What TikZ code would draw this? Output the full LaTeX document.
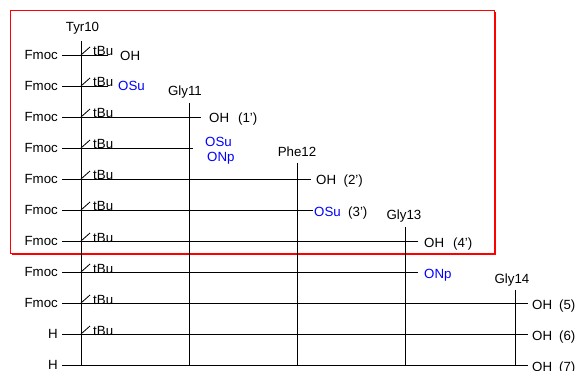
\documentclass[tikz,border=0pt]{standalone}
\usepackage{fontspec}
\setmainfont{Liberation Sans}
\begin{document}
\begin{tikzpicture}[x=1pt,y=-1pt,
  txt/.style={font=\fontsize{13.3}{16}\selectfont, inner sep=0pt},
  grp/.style={txt, anchor=east, inner xsep=4pt, inner ysep=0pt},
  rt/.style={txt, anchor=base west},
  bl/.style={rt, text=blue},
  res/.style={txt, anchor=base},
  ln/.style={line width=0.9pt},
  prot/.style={txt, anchor=base west}]
\useasboundingbox (0,0) rectangle (577,371);
\clip (0,0) rectangle (577,371);
% red frame
\draw[red, line width=1pt] (10,11) rectangle (494,253);
\draw[red, line width=2.6pt] (495,12) -- (495,254) -- (12,254);
% residue labels and vertical lines
\node[res] (tyr) at (82.5,31.5) {Tyr10};
\node[res] (gly11) at (185,95.5) {Gly11};
\node[res] (phe) at (297,156.5) {Phe12};
\node[res] (gly13) at (404,219.5) {Gly13};
\node[res] (gly14) at (512,283.5) {Gly14};
\coordinate (v0t) at (81,41);  \coordinate (v0b) at (81,365);
\coordinate (v1t) at (189,103); \coordinate (v1b) at (189,365);
\coordinate (v2t) at (297,163); \coordinate (v2b) at (297,365);
\coordinate (v3t) at (405,227); \coordinate (v3b) at (405,365);
\coordinate (v4t) at (515,290); \coordinate (v4b) at (515,365);
\foreach \i in {0,...,4} \draw[ln] (v\i t) -- (v\i b);
% left groups
\node[grp] (g1) at (62,55) {Fmoc};
\node[grp] (g2) at (62,86) {Fmoc};
\node[grp] (g3) at (62,117) {Fmoc};
\node[grp] (g4) at (62,148) {Fmoc};
\node[grp] (g5) at (62,179) {Fmoc};
\node[grp] (g6) at (62,210) {Fmoc};
\node[grp] (g7) at (62,241) {Fmoc};
\node[grp] (g8) at (62,272) {Fmoc};
\node[grp] (g9) at (62,303) {Fmoc};
\node[grp] (g10) at (62,334) {H};
\node[grp] (g11) at (62,365) {H};
% line ends
\coordinate (e1) at (108,55);
\coordinate (e2) at (108,86);
\coordinate (e3) at (201,117);
\coordinate (e4) at (193,148);
\coordinate (e5) at (311,179);
\coordinate (e6) at (313,210);
\coordinate (e7) at (418,241);
\coordinate (e8) at (418,272);
\coordinate (e9) at (528,303);
\coordinate (e10) at (528,334);
\coordinate (e11) at (528,365);
\foreach \i in {1,...,11} \draw[ln] (g\i.east) -- (e\i);
% tBu side chains
\foreach \i/\y in {1/55,2/86,3/117,4/148,5/179,6/210,7/241,8/272,9/303,10/334}{
  \coordinate (s\i a) at (81,\y);
  \coordinate (s\i b) at (90,\y-8);
  \draw[line width=0.8pt] (s\i a) -- (s\i b);
  \node[prot] (tbu\i) at (93,\y+1) {tBu};
}
% right-hand groups
\node[rt] (r1) at (120,61) {OH};
\node[bl] (r2) at (118,91) {OSu};
\node[rt] (r3) at (209,123) {OH\hspace{9pt}(1')};
\node[bl] (r4a) at (205,147) {OSu};
\node[bl] (r4b) at (207,162) {ONp};
\node[rt] (r5) at (316,185) {OH\hspace{7.5pt}(2')};
\node[bl] (r6) at (314,216) {OSu};
\node[rt] (r6n) at (348,216) {(3')};
\node[rt] (r7) at (424,247) {OH\hspace{9pt}(4')};
\node[bl] (r8) at (424,278) {ONp};
\node[rt] (r9) at (532,309) {OH\hspace{7pt}(5)};
\node[rt] (r10) at (532,340) {OH\hspace{7pt}(6)};
\node[rt] (r11) at (532,371) {OH\hspace{7pt}(7)};
\end{tikzpicture}
\end{document}
